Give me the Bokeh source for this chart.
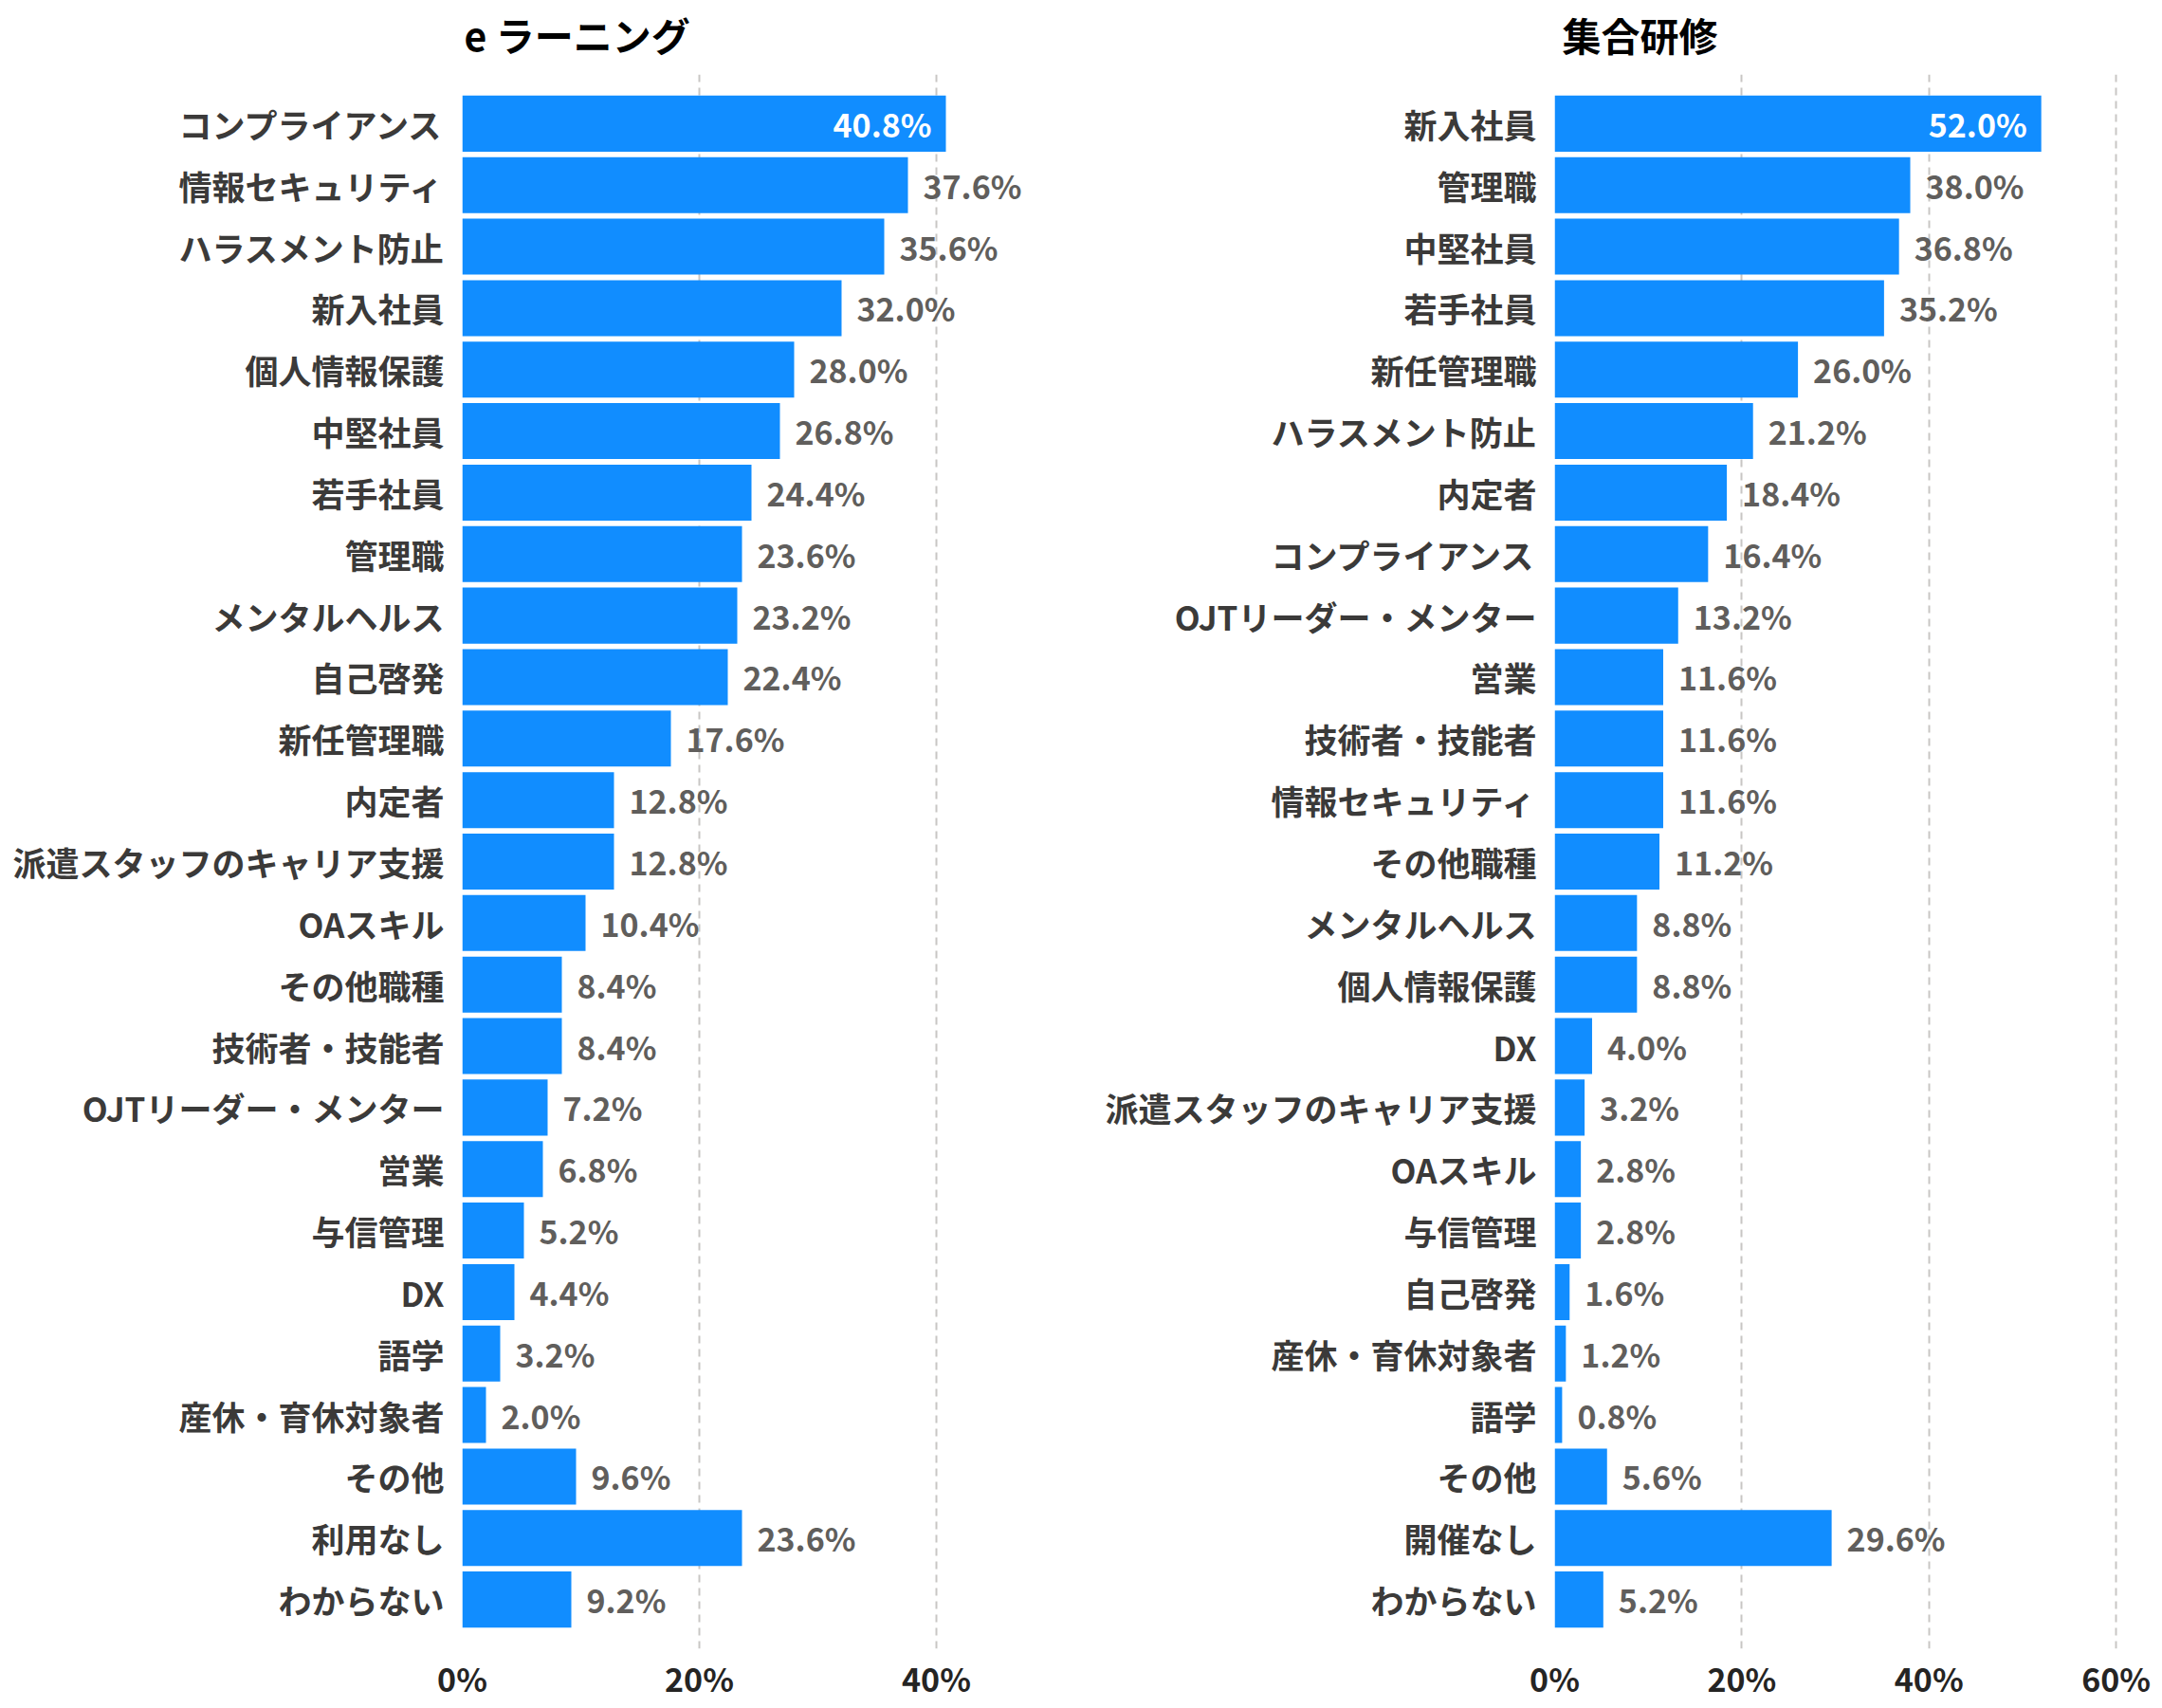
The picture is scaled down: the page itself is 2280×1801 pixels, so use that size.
from bokeh.plotting import figure
from bokeh.models import ColumnDataSource, FactorRange, Range1d, FixedTicker
from bokeh.layouts import row, column
from bokeh.embed import file_html
from bokeh.resources import INLINE
from bokeh.core.properties import value

# ---- data ----
elearning_title = "e ラーニング"
elearning_categories = [
    "コンプライアンス", "情報セキュリティ", "ハラスメント防止", "新入社員", "個人情報保護",
    "中堅社員", "若手社員", "管理職", "メンタルヘルス", "自己啓発", "新任管理職", "内定者",
    "派遣スタッフのキャリア支援", "OAスキル", "その他職種", "技術者・技能者",
    "OJTリーダー・メンター", "営業", "与信管理", "DX", "語学", "産休・育休対象者",
    "その他", "利用なし", "わからない",
]
elearning_values = [
    40.8, 37.6, 35.6, 32.0, 28.0, 26.8, 24.4, 23.6, 23.2, 22.4, 17.6, 12.8,
    12.8, 10.4, 8.4, 8.4, 7.2, 6.8, 5.2, 4.4, 3.2, 2.0, 9.6, 23.6, 9.2,
]
elearning_ticks = [0, 20, 40]

group_title = "集合研修"
group_categories = [
    "新入社員", "管理職", "中堅社員", "若手社員", "新任管理職", "ハラスメント防止", "内定者",
    "コンプライアンス", "OJTリーダー・メンター", "営業", "技術者・技能者", "情報セキュリティ",
    "その他職種", "メンタルヘルス", "個人情報保護", "DX", "派遣スタッフのキャリア支援",
    "OAスキル", "与信管理", "自己啓発", "産休・育休対象者", "語学", "その他", "開催なし",
    "わからない",
]
group_values = [
    52.0, 38.0, 36.8, 35.2, 26.0, 21.2, 18.4, 16.4, 13.2, 11.6, 11.6, 11.6,
    11.2, 8.8, 8.8, 4.0, 3.2, 2.8, 2.8, 1.6, 1.2, 0.8, 5.6, 29.6, 5.2,
]
group_ticks = [0, 20, 40, 60]

FONT = "Noto Sans CJK JP"
BAR = "#118DFF"
TOTAL_H = 1801
TITLE_H = 78
BOTTOM = 63


def make_title(text, width, border_left, border_right, x_offset):
    frame_w = width - border_left - border_right
    t = figure(width=width, height=TITLE_H, x_range=Range1d(0, frame_w), y_range=Range1d(0, TITLE_H),
               output_backend="svg", toolbar_location=None,
               x_axis_location=None, y_axis_location=None,
               min_border_left=border_left, min_border_right=border_right,
               min_border_top=0, min_border_bottom=0)
    t.grid.visible = False
    t.outline_line_color = None
    t.background_fill_color = "white"
    t.border_fill_color = "white"
    t.text(x=[0], y=[TITLE_H - 35], text=[text], x_offset=x_offset, text_align="left",
           text_baseline="middle", text_font=value(FONT), text_font_style="bold",
           text_font_size="41px", text_color="#000000")
    return t


def make_panel(cats, vals, ticks, xmax, width, border_left, border_right):
    factors = list(reversed(cats))
    p = figure(
        width=width, height=TOTAL_H - TITLE_H,
        y_range=FactorRange(factors=factors, range_padding=0.3, range_padding_units="absolute"),
        x_range=Range1d(0, xmax),
        output_backend="svg", toolbar_location=None,
        min_border_left=border_left, min_border_right=border_right,
        min_border_top=0, min_border_bottom=BOTTOM,
    )
    p.outline_line_color = None
    p.background_fill_color = "white"
    p.border_fill_color = "white"

    vmax = max(vals)
    labels = [f"{v:.1f}%" for v in vals]
    src = ColumnDataSource(dict(cat=cats, val=vals, label=labels))
    p.hbar(y="cat", left=0, right="val", height=0.91, source=src,
           fill_color=BAR, line_color=None)

    out_idx = [i for i, v in enumerate(vals) if v != vmax]
    in_idx = [i for i, v in enumerate(vals) if v == vmax]
    out_src = ColumnDataSource(dict(cat=[cats[i] for i in out_idx],
                                    val=[vals[i] for i in out_idx],
                                    label=[labels[i] for i in out_idx]))
    in_src = ColumnDataSource(dict(cat=[cats[i] for i in in_idx],
                                   val=[vals[i] for i in in_idx],
                                   label=[labels[i] for i in in_idx]))
    p.text(x="val", y="cat", text="label", source=out_src, x_offset=16,
           text_align="left", text_baseline="middle", text_font=value(FONT),
           text_font_style="bold", text_font_size="34px", text_color="#605E5C")
    p.text(x="val", y="cat", text="label", source=in_src, x_offset=-15,
           text_align="right", text_baseline="middle", text_font=value(FONT),
           text_font_style="bold", text_font_size="34px", text_color="#FFFFFF")

    p.ygrid.grid_line_color = None
    p.xgrid.ticker = FixedTicker(ticks=ticks)
    p.xgrid.grid_line_color = "#C8C6C4"
    p.xgrid.grid_line_width = 2
    p.xgrid.grid_line_dash = "8 6"

    p.xaxis.ticker = FixedTicker(ticks=ticks)
    p.xaxis.major_label_overrides = {t: f"{t}%" for t in ticks}
    p.xaxis.axis_line_color = None
    p.xaxis.major_tick_line_color = None
    p.xaxis.minor_tick_line_color = None
    p.xaxis.major_tick_out = 0
    p.xaxis.major_label_standoff = 6
    p.xaxis.major_label_text_font = FONT
    p.xaxis.major_label_text_font_size = "34px"
    p.xaxis.major_label_text_font_style = "bold"
    p.xaxis.major_label_text_color = "#252423"

    p.yaxis.axis_line_color = None
    p.yaxis.major_tick_line_color = None
    p.yaxis.major_tick_out = 0
    p.yaxis.major_label_standoff = 19
    p.yaxis.major_label_text_font = FONT
    p.yaxis.major_label_text_font_size = "35px"
    p.yaxis.major_label_text_font_style = "bold"
    p.yaxis.major_label_text_color = "#3B3A39"
    return p


t1 = make_title(elearning_title, 1120, 487, 33, 2)
p1 = make_panel(elearning_categories, elearning_values, elearning_ticks, 48, 1120, 487, 33)
t2 = make_title(group_title, 1160, 519, 39, 8)
p2 = make_panel(group_categories, group_values, group_ticks, 61, 1160, 519, 39)

layout = row(column(t1, p1), column(t2, p2))
open("out.html", "w").write(file_html(layout, INLINE))
